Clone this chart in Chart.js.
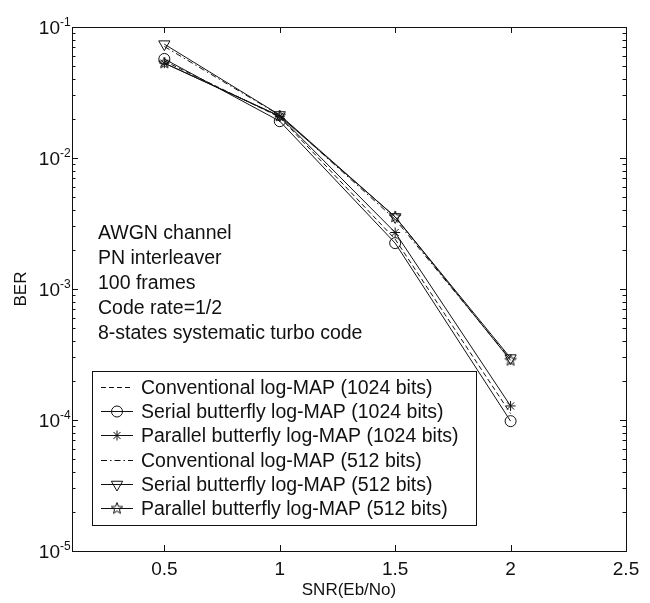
<!DOCTYPE html>
<html>
<head>
<meta charset="utf-8">
<script src="https://cdn.jsdelivr.net/npm/chart.js@4.4.1/dist/chart.umd.min.js"></script>
<style>
html,body{margin:0;padding:0;background:#fff;}
#wrap{width:650px;height:603px;}
</style>
</head>
<body>
<div id="wrap"><canvas id="c" width="650" height="603"></canvas></div>
<script>
// ---- data ----
const snr = [0.5, 1, 1.5, 2];
const convLogMap1024   = [0.055, 0.0205, 0.0024, 1.12e-4];
const serialLogMap1024 = [0.057, 0.0191, 0.00224, 9.8e-5];
const parLogMap1024    = [0.053, 0.0208, 0.0027, 1.28e-4];
const convLogMap512    = [0.071, 0.0212, 0.0034, 2.9e-4];
const serialLogMap512  = [0.074, 0.0213, 0.00355, 2.97e-4];
const parLogMap512     = [0.053, 0.0209, 0.00355, 2.85e-4];
const seriesLabels = [
  'Conventional log-MAP (1024 bits)',
  'Serial butterfly log-MAP (1024 bits)',
  'Parallel butterfly log-MAP (1024 bits)',
  'Conventional log-MAP (512 bits)',
  'Serial butterfly log-MAP (512 bits)',
  'Parallel butterfly log-MAP (512 bits)'
];
const xTickValues = [0.5, 1, 1.5, 2, 2.5];
const yDecades = [-1, -2, -3, -4, -5];
const notes = ['AWGN channel', 'PN interleaver', '100 frames', 'Code rate=1/2', '8-states systematic turbo code'];
const xTitle = 'SNR(Eb/No)';
const yTitle = 'BER';

const FONT = '"Liberation Sans", Arial, Helvetica, sans-serif';
const INK = '#111';

// pentagram marker
function makeStar(r) {
  const s = Math.ceil(r * 2 + 4);
  const cv = document.createElement('canvas');
  cv.width = s; cv.height = s;
  const g = cv.getContext('2d');
  g.strokeStyle = INK; g.lineWidth = 1;
  g.beginPath();
  for (let i = 0; i < 10; i++) {
    const rr = i % 2 === 0 ? r : r * 0.42;
    const a = -Math.PI / 2 + i * Math.PI / 5;
    const px = s / 2 + rr * Math.cos(a), py = s / 2 + rr * Math.sin(a);
    if (i === 0) g.moveTo(px, py); else g.lineTo(px, py);
  }
  g.closePath(); g.stroke();
  return cv;
}
const starImg = makeStar(6);

function ds(label, data, opts) {
  return Object.assign({
    label, data: snr.map((x, i) => ({x, y: data[i]})),
    borderColor: INK, borderWidth: 1, backgroundColor: 'rgba(0,0,0,0)',
    pointBorderColor: INK, pointBackgroundColor: 'rgba(0,0,0,0)', pointBorderWidth: 1,
    pointRadius: 0, tension: 0, fill: false
  }, opts);
}

const datasets = [
  ds(seriesLabels[0], convLogMap1024, {borderDash: [5, 3], pointRadius: 0}),
  ds(seriesLabels[1], serialLogMap1024, {pointStyle: 'circle', pointRadius: 5.5}),
  ds(seriesLabels[2], parLogMap1024, {pointStyle: 'star', pointRadius: 5}),
  ds(seriesLabels[3], convLogMap512, {borderDash: [6, 3, 1.5, 3], pointRadius: 0}),
  ds(seriesLabels[4], serialLogMap512, {pointStyle: 'triangle', pointRadius: 6.5, pointRotation: 180}),
  ds(seriesLabels[5], parLogMap512, {pointStyle: starImg, pointRadius: 6})
];

const decorPlugin = {
  id: 'decor',
  afterDatasetsDraw(chart) {
    const ctx = chart.ctx;
    const a = chart.chartArea;
    const xs = chart.scales.x, ys = chart.scales.y;
    ctx.save();
    // box
    ctx.strokeStyle = INK; ctx.lineWidth = 1;
    ctx.strokeRect(Math.round(a.left) + 0.5, Math.round(a.top) + 0.5, Math.round(a.right - a.left), Math.round(a.bottom - a.top));
    // x ticks (inward, top & bottom)
    ctx.beginPath();
    xTickValues.forEach(v => {
      const px = Math.round(xs.getPixelForValue(v)) + 0.5;
      ctx.moveTo(px, a.bottom); ctx.lineTo(px, a.bottom - 6);
      ctx.moveTo(px, a.top); ctx.lineTo(px, a.top + 6);
    });
    // y ticks major + minor
    yDecades.forEach(d => {
      const py = Math.round(ys.getPixelForValue(Math.pow(10, d))) + 0.5;
      ctx.moveTo(a.left, py); ctx.lineTo(a.left + 6, py);
      ctx.moveTo(a.right, py); ctx.lineTo(a.right - 6, py);
      if (d > -5) {
        for (let m = 2; m <= 9; m++) {
          const pm = Math.round(ys.getPixelForValue(m * Math.pow(10, d - 1))) + 0.5;
          ctx.moveTo(a.left, pm); ctx.lineTo(a.left + 3.5, pm);
          ctx.moveTo(a.right, pm); ctx.lineTo(a.right - 3.5, pm);
        }
      }
    });
    ctx.stroke();
    // y tick labels 10^d
    ctx.fillStyle = INK;
    yDecades.forEach(d => {
      const py = ys.getPixelForValue(Math.pow(10, d));
      ctx.font = '19px ' + FONT;
      ctx.textAlign = 'right'; ctx.textBaseline = 'alphabetic';
      ctx.fillText('10', 60, py + 7);
      ctx.font = '12px ' + FONT;
      ctx.textAlign = 'left';
      ctx.fillText(String(d), 60, py - 1);
    });
    // annotation text
    ctx.font = '19.5px ' + FONT;
    ctx.textAlign = 'left'; ctx.textBaseline = 'middle';
    notes.forEach((t, i) => ctx.fillText(t, 98, 234 + i * 25));
    // legend
    const L = 92, T = 371, R = 476, B = 525;
    ctx.fillStyle = '#fff';
    ctx.fillRect(L, T, R - L, B - T);
    ctx.strokeStyle = INK;
    ctx.strokeRect(L + 0.5, T + 0.5, R - L, B - T);
    chart.data.datasets.forEach((dset, i) => {
      const cy = Math.round(387 + i * 24.2) + 0.5;
      ctx.save();
      ctx.strokeStyle = INK; ctx.lineWidth = 1;
      ctx.setLineDash(dset.borderDash || []);
      ctx.beginPath(); ctx.moveTo(101, cy); ctx.lineTo(133, cy); ctx.stroke();
      ctx.setLineDash([]);
      if (dset.pointRadius > 0) {
        ctx.fillStyle = 'rgba(0,0,0,0)';
        ctx.strokeStyle = INK;
        Chart.helpers.drawPoint(ctx, {
          pointStyle: dset.pointStyle, radius: dset.pointRadius,
          rotation: dset.pointRotation || 0, borderWidth: 1
        }, 117, cy);
      }
      ctx.restore();
      ctx.fillStyle = INK;
      ctx.font = '19.5px ' + FONT;
      ctx.textAlign = 'left'; ctx.textBaseline = 'middle';
      ctx.fillText(dset.label, 141, cy + 1);
    });
    ctx.restore();
  }
};

new Chart(document.getElementById('c'), {
  type: 'line',
  data: {datasets},
  options: {
    responsive: false,
    animation: false,
    devicePixelRatio: 1,
    layout: {padding: {left: 0, top: 27, right: 24, bottom: 0}},
    plugins: {legend: {display: false}, tooltip: {enabled: false}},
    scales: {
      x: {
        type: 'linear', min: 0.1, max: 2.5,
        afterBuildTicks: s => { s.ticks = xTickValues.map(v => ({value: v})); },
        afterFit: s => { s.height = 52; },
        grid: {display: false, drawTicks: false},
        border: {display: false},
        ticks: {color: INK, font: {family: FONT, size: 19}, padding: 7, maxRotation: 0,
          callback: v => String(v)},
        title: {display: true, text: xTitle, color: INK, font: {family: FONT, size: 17}, padding: {top: 0, bottom: 2}}
      },
      y: {
        type: 'logarithmic', min: 1e-5, max: 1e-1,
        afterFit: s => { s.width = 72; },
        grid: {display: false, drawTicks: false},
        border: {display: false},
        ticks: {display: false},
        title: {display: true, text: yTitle, color: INK, font: {family: FONT, size: 17}, padding: {top: 11, bottom: 0}}
      }
    }
  },
  plugins: [decorPlugin]
});
</script>
</body>
</html>
